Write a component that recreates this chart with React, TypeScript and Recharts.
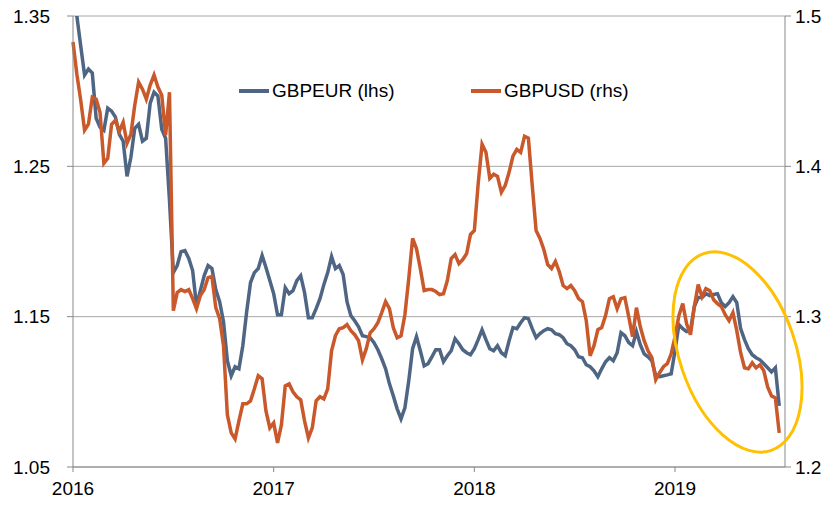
import { LineChart, Line, XAxis, YAxis, CartesianGrid } from "recharts";

const YEAR_TICKS = [2016, 2017, 2018, 2019];
const LHS_TICKS = [1.05, 1.15, 1.25, 1.35];
const RHS_TICKS = [1.2, 1.3, 1.4, 1.5];

// weekly closes, first week of Jan 2016 onwards
const GBPEUR = [
  1.3607, 1.35, 1.33, 1.3107, 1.3147, 1.312, 1.282, 1.276, 1.274, 1.2887,
  1.2867, 1.2827, 1.2713, 1.2667, 1.2433, 1.256, 1.2753, 1.278, 1.2667, 1.2687,
  1.292, 1.2993, 1.2967, 1.2747, 1.2687, 1.2273, 1.1793, 1.184, 1.1933, 1.194,
  1.1887, 1.1807, 1.1573, 1.1673, 1.1773, 1.184, 1.182, 1.168, 1.16, 1.1467,
  1.1207, 1.1107, 1.1167, 1.1153, 1.1307, 1.1533, 1.1727, 1.1793, 1.182, 1.1907,
  1.1827, 1.174, 1.1653, 1.1513, 1.1513, 1.1693, 1.1653, 1.1673, 1.174, 1.1773,
  1.166, 1.1493, 1.1493, 1.1553, 1.162, 1.1713, 1.1793, 1.19, 1.182, 1.184,
  1.178, 1.16, 1.1507, 1.1473, 1.1433, 1.1373, 1.1367, 1.136, 1.1327, 1.128,
  1.122, 1.1153, 1.1053, 1.0973, 1.0887, 1.082, 1.0893, 1.1073, 1.1287, 1.1367,
  1.1273, 1.1173, 1.1187, 1.1233, 1.128, 1.128, 1.12, 1.124, 1.1273, 1.1353,
  1.132, 1.128, 1.126, 1.1247, 1.1287, 1.1347, 1.1413, 1.1347, 1.1287, 1.1273,
  1.1307, 1.126, 1.124, 1.134, 1.1427, 1.142, 1.146, 1.1493, 1.1487, 1.142,
  1.136, 1.1387, 1.1407, 1.142, 1.1413, 1.1387, 1.138, 1.136, 1.132, 1.1307,
  1.128, 1.1233, 1.1227, 1.118, 1.1167, 1.114, 1.11, 1.1153, 1.12, 1.1227,
  1.1207, 1.126, 1.1393, 1.1373, 1.1327, 1.1307, 1.14, 1.1313, 1.1253, 1.1233,
  1.1207, 1.1107, 1.11, 1.1107, 1.1113, 1.112, 1.1273, 1.1447, 1.142, 1.14,
  1.1407, 1.1567, 1.1627, 1.1627, 1.1653, 1.164, 1.1647, 1.1653, 1.1593, 1.1567,
  1.1593, 1.1633, 1.1593, 1.142, 1.1347, 1.1287, 1.1247, 1.1227, 1.1213, 1.1187,
  1.116, 1.1133, 1.116, 1.0907,
];

const GBPUSD = [
  1.4827, 1.4613, 1.444, 1.424, 1.428, 1.446, 1.4447, 1.436, 1.402, 1.4053,
  1.428, 1.4307, 1.4233, 1.4293, 1.4153, 1.4213, 1.4407, 1.456, 1.4513, 1.4447,
  1.454, 1.4607, 1.4527, 1.4473, 1.4207, 1.4493, 1.304, 1.316, 1.318, 1.3167,
  1.318, 1.312, 1.3053, 1.314, 1.318, 1.326, 1.3267, 1.306, 1.2987, 1.2807,
  1.2347, 1.2227, 1.2187, 1.2307, 1.242, 1.242, 1.244, 1.252, 1.2607, 1.2587,
  1.2373, 1.226, 1.2293, 1.216, 1.228, 1.254, 1.2553, 1.25, 1.2467, 1.2447,
  1.2307, 1.2193, 1.226, 1.244, 1.2467, 1.2453, 1.252, 1.2773, 1.2873, 1.292,
  1.2927, 1.2947, 1.2907, 1.288, 1.284, 1.2713, 1.2787, 1.2893, 1.292, 1.296,
  1.3027, 1.31, 1.3053, 1.2927, 1.286, 1.2873, 1.3013, 1.3253, 1.352, 1.3453,
  1.332, 1.3173, 1.318, 1.318, 1.3167, 1.3147, 1.3153, 1.324, 1.3387, 1.3413,
  1.3353, 1.338, 1.342, 1.3547, 1.3573, 1.3887, 1.4147, 1.4093, 1.392, 1.3947,
  1.3933, 1.3827, 1.3873, 1.396, 1.4067, 1.4113, 1.4093, 1.42, 1.4187, 1.3873,
  1.3573, 1.352, 1.3447, 1.3347, 1.332, 1.3367, 1.33, 1.3207, 1.3187, 1.3207,
  1.3173, 1.312, 1.31, 1.2973, 1.274, 1.2807, 1.2913, 1.2927, 1.3007, 1.312,
  1.3133, 1.3053, 1.312, 1.3127, 1.3, 1.2867, 1.306, 1.2933, 1.284, 1.2773,
  1.2727, 1.258, 1.2627, 1.2667, 1.2687, 1.2753, 1.2867, 1.3007, 1.3087, 1.2953,
  1.288, 1.3067, 1.3213, 1.3133, 1.3187, 1.3173, 1.3113, 1.3087, 1.3067, 1.3013,
  1.2973, 1.3027, 1.2907, 1.276, 1.266, 1.2653, 1.2693, 1.266, 1.268, 1.264,
  1.2533, 1.2473, 1.246, 1.2227,
];

const EUR_COLOR = "#4f6584";
const USD_COLOR = "#c9582b";
const AXIS_COLOR = "#888888";
const GRID_COLOR = "#a6a6a6";
const FONT = "'Liberation Sans Narrow', 'Liberation Sans', sans-serif";

const data = GBPEUR.map((v, i) => ({ t: 2016 + i / 52, eur: v, usd: GBPUSD[i] }));

const tickStyle = { fill: "#000", fontSize: 19, fontFamily: FONT };

function LegendItem({ label, color, left }: { label: string; color: string; left: number }) {
  return (
    <div style={{ position: "absolute", left, top: 80, display: "flex", alignItems: "center", fontFamily: FONT, fontSize: 19, color: "#000", whiteSpace: "nowrap" }}>
      <span style={{ display: "inline-block", width: 30, height: 4, background: color, marginRight: 3 }} />
      <span>{label}</span>
    </div>
  );
}

export default function App() {
  return (
    <div style={{ position: "absolute", left: 0, top: 0, width: 831, height: 506, background: "#fff" }}>
      <LineChart width={831} height={506} data={data} margin={{ top: 16, right: 0, bottom: 0, left: 0 }}>
        <CartesianGrid yAxisId="l" vertical={false} stroke={GRID_COLOR} />
        <XAxis
          dataKey="t"
          type="number"
          domain={[2016, 2019.548]}
          ticks={YEAR_TICKS}
          tickFormatter={(v) => String(Math.round(v))}
          height={39}
          tick={tickStyle}
          tickSize={5}
          tickMargin={10}
          stroke={AXIS_COLOR}
        />
        <YAxis
          yAxisId="l"
          domain={[1.05, 1.35]}
          ticks={LHS_TICKS}
          allowDataOverflow
          tickFormatter={(v) => v.toFixed(2)}
          width={73}
          tick={tickStyle}
          tickSize={6}
          tickMargin={17}
          stroke={AXIS_COLOR}
        />
        <YAxis
          yAxisId="r"
          orientation="right"
          domain={[1.2, 1.5]}
          ticks={RHS_TICKS}
          allowDataOverflow
          tickFormatter={(v) => v.toFixed(1)}
          width={46}
          tick={tickStyle}
          tickSize={6}
          tickMargin={4}
          stroke={AXIS_COLOR}
        />
        <Line yAxisId="l" dataKey="eur" stroke={EUR_COLOR} strokeWidth={3.5} dot={false} isAnimationActive={false} />
        <Line yAxisId="r" dataKey="usd" stroke={USD_COLOR} strokeWidth={3.5} dot={false} isAnimationActive={false} />
      </LineChart>
      <LegendItem label="GBPEUR (lhs)" color={EUR_COLOR} left={239} />
      <LegendItem label="GBPUSD (rhs)" color={USD_COLOR} left={471} />
      <svg width={831} height={506} style={{ position: "absolute", left: 0, top: 0, pointerEvents: "none" }}>
        <ellipse cx={737.5} cy={352} rx={58} ry={104} fill="none" stroke="#ffc000" strokeWidth={3} transform="rotate(-19 737.5 352)" />
      </svg>
    </div>
  );
}
